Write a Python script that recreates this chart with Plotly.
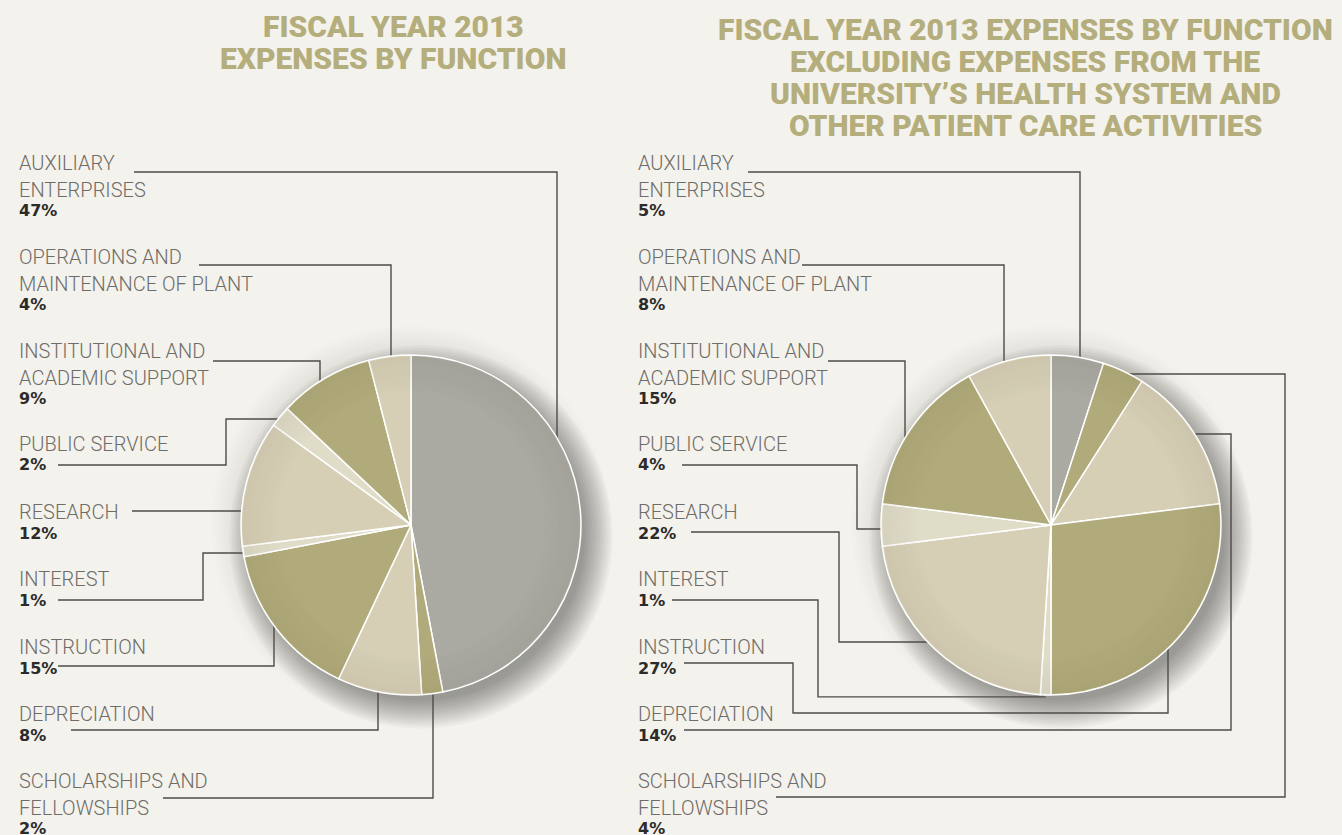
import math
import plotly.graph_objects as go

# ---------------- data ----------------
categories = [
    "AUXILIARY\nENTERPRISES",
    "OPERATIONS AND\nMAINTENANCE OF PLANT",
    "INSTITUTIONAL AND\nACADEMIC SUPPORT",
    "PUBLIC SERVICE",
    "RESEARCH",
    "INTEREST",
    "INSTRUCTION",
    "DEPRECIATION",
    "SCHOLARSHIPS AND\nFELLOWSHIPS",
]
total_pct = [47, 4, 9, 2, 12, 1, 15, 8, 2]
excl_pct = [5, 8, 15, 4, 22, 1, 27, 14, 4]

title_left = ["FISCAL YEAR 2013", "EXPENSES BY FUNCTION"]
title_right = ["FISCAL YEAR 2013 EXPENSES BY FUNCTION",
               "EXCLUDING EXPENSES FROM THE",
               "UNIVERSITY\u2019S HEALTH SYSTEM AND",
               "OTHER PATIENT CARE ACTIVITIES"]

# ---------------- styles / layout ----------------
W, H = 1342, 835
BG = "#f4f2ec"
TITLE_C = "#b4ad7c"
LABEL_C = "#6e6c68"
PCT_C = "#2c2b29"
LINE_C = "#4e4c48"
GRAY, OLIVE, CREAM, LIGHT = "#aaa9a2", "#b1ab7b", "#d6cfb6", "#dfdcc8"
slice_colors = [GRAY, CREAM, OLIVE, LIGHT, CREAM, LIGHT, OLIVE, CREAM, OLIVE]

R = 170
pies = [dict(cx=411, cy=525, values=total_pct, col_x=17),
        dict(cx=1051, cy=525, values=excl_pct, col_x=636)]
label_y = [163, 257, 351, 444, 512, 579, 647, 714, 781]
LINE_GAP, PCT_GAP = 26.5, 21

# leader routes (pixel waypoints) and final direction toward the pie
routes = [
    [([(134, 172), (557, 172)], "down"),
     ([(199, 265), (391, 265)], "down"),
     ([(213, 361), (320, 361)], "down"),
     ([(58, 465), (226, 465), (226, 419)], "right"),
     ([(132, 511)], "right"),
     ([(58, 600), (203, 600), (203, 553)], "right"),
     ([(58, 666), (274, 666)], "up"),
     ([(71, 730), (378, 730)], "up"),
     ([(163, 798), (433, 798)], "up")],
    [([(748, 172), (1080, 172)], "down"),
     ([(802, 265), (1004, 265)], "down"),
     ([(828, 361), (905, 361)], "down"),
     ([(682, 465), (857, 465), (857, 529)], "right"),
     ([(691, 532), (839, 532), (839, 642)], "right"),
     ([(672, 600), (818, 600)], "slice"),
     ([(684, 663), (793, 663), (793, 713), (1168, 713)], "up"),
     ([(684, 730), (1231, 730), (1231, 434)], "left"),
     ([(776, 797), (1285, 797), (1285, 374)], "left")],
]


def px(x):
    return x / W


def py(y):
    return 1 - y / H


# clockwise order starting at 12 o'clock: first category then the rest reversed
order = [0] + list(range(len(categories) - 1, 0, -1))

fig = go.Figure()
shapes = []
annotations = []

for pi, p in enumerate(pies):
    cx, cy = p["cx"], p["cy"]
    # soft ambient glow + drop shadow
    for k in range(10):
        rr = R + 2 + k * 3
        shapes.append(dict(type="circle", xref="paper", yref="paper", layer="below",
                           x0=px(cx - rr), x1=px(cx + rr), y0=py(cy + rr), y1=py(cy - rr),
                           fillcolor="rgba(120,115,100,0.010)", line=dict(width=0)))
    for k in range(12):
        rr = R - 6 + k * 2.5
        shapes.append(dict(type="circle", xref="paper", yref="paper", layer="below",
                           x0=px(cx + 10 - rr), x1=px(cx + 10 + rr),
                           y0=py(cy + 12 + rr), y1=py(cy + 12 - rr),
                           fillcolor="rgba(60,58,50,0.04)", line=dict(width=0)))
    vals = [p["values"][i] for i in order]
    fig.add_trace(go.Pie(
        labels=[categories[i].replace("\n", " ") for i in order],
        values=vals, sort=False, direction="clockwise", rotation=0,
        marker=dict(colors=[slice_colors[i] for i in order],
                    line=dict(color="#ffffff", width=1.5)),
        textinfo="none", hoverinfo="label+percent", showlegend=False,
        domain=dict(x=[px(cx - R), px(cx + R)], y=[py(cy + R), py(cy - R)]),
    ))
    # radial edge darkening
    for k in range(12):
        rr = R - 3 - k * 3
        a = 0.06 * (1 - k / 12)
        shapes.append(dict(type="circle", xref="paper", yref="paper", layer="above",
                           x0=px(cx - rr), x1=px(cx + rr), y0=py(cy + rr), y1=py(cy - rr),
                           line=dict(color=f"rgba(70,62,35,{a:.3f})", width=3)))

    # slice mid angles (degrees clockwise from top) per category
    mids = {}
    acc = 0
    tot = sum(vals)
    for i in order:
        v = p["values"][i]
        mids[i] = (acc + v / 2) / tot * 360
        acc += v

    # labels
    for ci, cat in enumerate(categories):
        lines = cat.split("\n")
        y = label_y[ci]
        for li, ln in enumerate(lines):
            annotations.append(dict(text=ln, x=px(p["col_x"]), y=py(y + li * LINE_GAP),
                                    xref="paper", yref="paper", xanchor="left", yanchor="middle",
                                    showarrow=False,
                                    font=dict(family="Roboto", size=20, color=LABEL_C, weight=300)))
        yp = y + (len(lines) - 1) * LINE_GAP + PCT_GAP
        annotations.append(dict(text=f"{p['values'][ci]}%", x=px(p["col_x"]), y=py(yp),
                                xref="paper", yref="paper", xanchor="left", yanchor="middle",
                                showarrow=False,
                                font=dict(family="DejaVu Sans", size=16, color=PCT_C, weight=700)))

        # leader line
        pts, final = routes[pi][ci]
        pts = list(pts)
        lx, ly = pts[-1]
        if final == "down":
            pts.append((lx, cy - math.sqrt(R * R - (lx - cx) ** 2)))
        elif final == "up":
            pts.append((lx, cy + math.sqrt(R * R - (lx - cx) ** 2)))
        elif final == "right":
            pts.append((cx - math.sqrt(R * R - (ly - cy) ** 2), ly))
        elif final == "left":
            pts.append((cx + math.sqrt(R * R - (ly - cy) ** 2), ly))
        elif final == "slice":
            ang = math.radians(mids[ci])
            ex, ey = cx + R * math.sin(ang), cy - R * math.cos(ang) + 2
            pts.append((lx, ey))
            pts.append((ex, ey))
        path = "M " + " L ".join(f"{px(x):.5f},{py(y):.5f}" for x, y in pts)
        shapes.append(dict(type="path", xref="paper", yref="paper", path=path, layer="below",
                           line=dict(color=LINE_C, width=1.4)))

for ti, t in enumerate(title_left):
    annotations.append(dict(text=t, x=px(393), y=py(27 + ti * 32), xref="paper", yref="paper",
                            xanchor="center", yanchor="middle", showarrow=False,
                            font=dict(family="Roboto", size=30, color=TITLE_C, weight=900)))
for ti, t in enumerate(title_right):
    annotations.append(dict(text=t, x=px(1025), y=py(30 + ti * 32), xref="paper", yref="paper",
                            xanchor="center", yanchor="middle", showarrow=False,
                            font=dict(family="Roboto", size=30, color=TITLE_C, weight=900)))

fig.update_layout(width=W, height=H, autosize=False,
                  margin=dict(l=0, r=0, t=0, b=0),
                  paper_bgcolor=BG, plot_bgcolor=BG,
                  shapes=shapes, annotations=annotations)

fig.write_html("out.html", config={"displayModeBar": False},
               post_script="document.body.style.margin='0';"
                           "document.body.style.background='%s';"
                           "document.body.style.overflow='hidden';" % BG)
